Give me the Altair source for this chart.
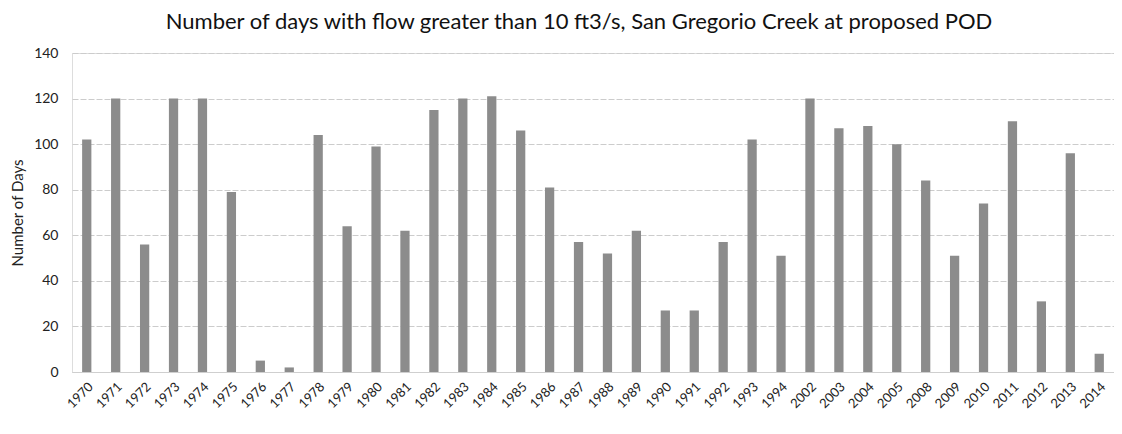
import altair as alt
import pandas as pd

years = ["1970", "1971", "1972", "1973", "1974", "1975", "1976", "1977", "1978", "1979",
         "1980", "1981", "1982", "1983", "1984", "1985", "1986", "1987", "1988", "1989",
         "1990", "1991", "1992", "1993", "1994", "2002", "2003", "2004", "2005", "2008",
         "2009", "2010", "2011", "2012", "2013", "2014"]
days = [102, 120, 56, 120, 120, 79, 5, 2, 104, 64,
        99, 62, 115, 120, 121, 106, 81, 57, 52, 62,
        27, 27, 57, 102, 51, 120, 107, 108, 100, 84,
        51, 74, 110, 31, 96, 8]
y_ticks = [0, 20, 40, 60, 80, 100, 120, 140]

df = pd.DataFrame({"Year": years, "Days": days})

FONT = "Lato"

chart = alt.Chart(df).mark_bar(color="#8c8c8c").encode(
    x=alt.X("Year:N", sort=years, title=None,
            scale=alt.Scale(paddingInner=0.68, paddingOuter=0.35),
            axis=alt.Axis(labelAngle=-45, labelFontSize=13, labelColor="#222",
                          labelFont=FONT, ticks=False, domain=True,
                          domainColor="#cfcfcf", labelPadding=8)),
    y=alt.Y("Days:Q", title="Number of Days",
            scale=alt.Scale(domain=[0, 140], nice=False),
            axis=alt.Axis(values=y_ticks, labelFontSize=14, labelColor="#222",
                          labelFont=FONT, ticks=False, domain=False,
                          gridColor="#cccccc", gridDash=[6, 2], gridWidth=1,
                          titleFont=FONT, titleFontSize=15, titleFontWeight="normal",
                          titleColor="#222", titlePadding=8, labelPadding=14)),
).properties(
    width=1042,
    height=319,
    title=alt.TitleParams(
        "Number of days with flow greater than 10 ft3/s, San Gregorio Creek at proposed POD",
        font=FONT, fontSize=22, fontWeight="normal", color="#111",
        anchor="middle", offset=12, dx=-14),
    autosize=alt.AutoSizeParams(type="none"),
    padding={"left": 64, "top": 45, "right": 0, "bottom": 60},
).configure_view(stroke=None).configure(background="white")

chart.save("out.html", embed_options={"renderer": "svg", "actions": False})
